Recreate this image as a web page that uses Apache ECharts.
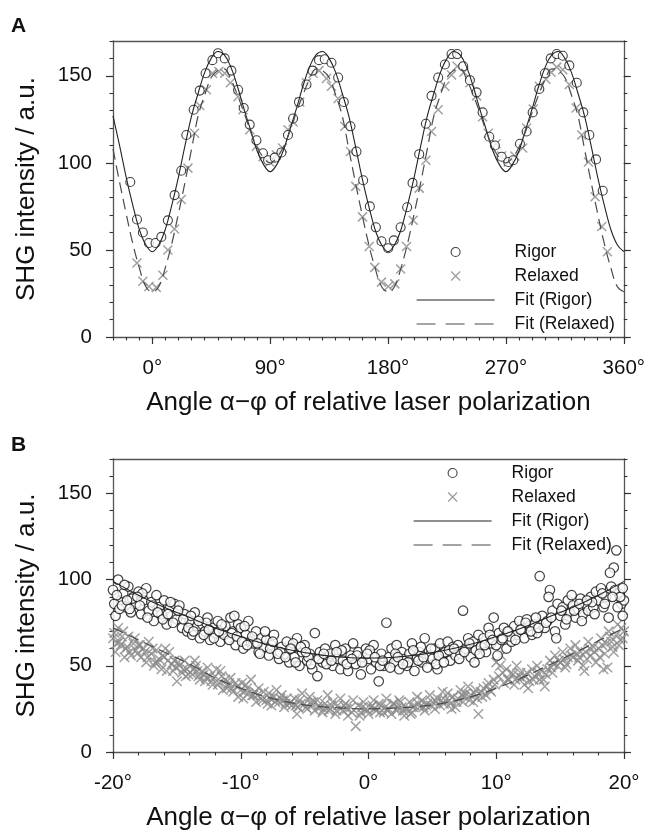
<!DOCTYPE html>
<html>
<head>
<meta charset="utf-8">
<script src="https://cdn.jsdelivr.net/npm/echarts@6/dist/echarts.min.js"></script>
<style>
html,body{margin:0;padding:0;background:#fff;}
#chart{width:648px;height:832px;}
</style>
</head>
<body>
<div id="chart"></div>
<script>
// ---------- Panel A data ----------
const A_X_TICKS = [0, 90, 180, 270, 360];
const B_X_TICKS = [-20, -10, 0, 10, 20];
const Y_TICKS = [0, 50, 100, 150];
const A_RIGOR = [[-16.8,89],[-11.7,67.5],[-7.2,60],[-2.6,54],[2.5,54],[6.9,57.5],[11.9,67],[17,81.5],[22.1,95.5],[26,116],[31.6,130.5],[36.2,141.5],[40.7,151.5],[45.9,159],[50.2,163],[55.3,160],[60.4,153],[65.5,142],[69.8,131.5],[74.4,122],[79.5,113],[84.5,105.5],[88.4,101.5],[93.5,103],[98.6,106],[103.6,116],[107.5,125.5],[112,135],[117.7,145],[122.3,153],[127.3,159],[131.7,159.5],[136.8,157.5],[141.9,149],[146.2,135],[151.3,121],[155.9,106.5],[161,90],[166.1,75],[170.7,63],[175,55],[180.1,51],[184.4,55.5],[189.6,63],[194.6,74.5],[198.7,88.5],[203.8,105],[208.9,122.5],[213.2,138.5],[218.3,149],[223.4,156.5],[228.5,162.5],[232.8,162.5],[237.4,155.5],[242.5,147.5],[247.6,140.5],[252.2,129],[257.3,115],[261.6,110],[266.7,103.5],[271.8,100.5],[275.6,101.5],[280.7,111],[285.8,118],[290.4,129],[295.5,142.5],[299.8,151.5],[304.2,160],[308.8,162.5],[313.4,161.5],[318.4,156],[324.1,146],[329.1,129],[333.7,116],[338.8,102],[343.9,84]];
const A_RELAXED = [[-11.7,42.5],[-7.2,32],[-2.6,29],[3,28.5],[8.1,35.5],[11.9,50],[17,62],[22.1,79],[27.2,97],[32.3,117],[36.2,133],[41.3,142],[45.9,151.5],[50.9,152.5],[55.3,151.5],[59.6,146],[65.5,138],[69.3,130.5],[74.4,119],[79.5,109.5],[84.5,103.5],[89.7,100.5],[94.8,104.5],[99.4,108.5],[103.6,119],[107.5,123.5],[112.6,135],[117.7,146],[122.8,151.5],[127.3,153],[133,148.5],[136.8,144],[141.9,137],[147,121],[151.3,106.5],[155.3,86.5],[160.5,69],[165.6,52],[169.9,40],[175,31.5],[180.1,29],[185.2,30.5],[189.6,39],[194.1,52],[199.2,67],[203.8,85.5],[208.9,101.5],[213.2,118],[218.3,130.5],[223.4,144],[228.5,150.5],[232.8,155.5],[237.9,152],[242.5,146],[247.6,138.5],[252.2,126.5],[256.5,117],[262.4,111],[266.7,104],[271.8,100.5],[276.9,104],[282.8,108.5],[285.8,120],[290.9,131],[295.5,144],[300.6,148],[304.5,152],[308.8,155],[313.4,153.5],[318.4,145],[323.6,131.5],[327.9,116],[333,100.5],[338.1,80.5],[343.2,63.5],[347.5,49]];
const A_FIT_RIGOR = [[-30,127],[-25,110],[-20,92],[-15,76],[-10,62],[-5,53],[0,49],[5,53],[10,62],[15,76],[20,92],[25,110],[30,127],[35,140],[40,152],[45,160],[50,164],[55,162],[60,155],[65,144],[70,131],[75,119],[80,107],[85,99],[90,95],[95,99],[100,107],[105,119],[110,131],[115,144],[120,155],[125,162],[130,164],[135,160],[140,152],[145,140],[150,127],[155,110],[160,92],[165,76],[170,62],[175,53],[180,49],[185,53],[190,62],[195,76],[200,92],[205,110],[210,127],[215,140],[220,152],[225,160],[230,164],[235,162],[240,155],[245,144],[250,131],[255,119],[260,107],[265,99],[270,95],[275,99],[280,107],[285,119],[290,131],[295,144],[300,155],[305,162],[310,164],[315,160],[320,152],[325,140],[330,127],[335,110],[340,92],[345,76],[350,62],[355,53],[360,49]];
const A_FIT_RELAXED = [[-30,108],[-25,89],[-20,71],[-15,54],[-10,40],[-5,29],[0,26],[5,29],[10,40],[15,54],[20,71],[25,89],[30,108],[35,127],[40,139],[45,149],[50,153],[55,154],[60,148],[65,139],[70,129],[75,118],[80,109],[85,103],[90,100],[95,103],[100,109],[105,118],[110,129],[115,139],[120,148],[125,154],[130,153],[135,149],[140,139],[145,127],[150,108],[155,89],[160,71],[165,54],[170,40],[175,29],[180,26],[185,29],[190,40],[195,54],[200,71],[205,89],[210,108],[215,127],[220,139],[225,149],[230,153],[235,154],[240,148],[245,139],[250,129],[255,118],[260,109],[265,103],[270,100],[275,103],[280,109],[285,118],[290,129],[295,139],[300,148],[305,154],[310,153],[315,149],[320,139],[325,127],[330,108],[335,89],[340,71],[345,54],[350,40],[355,29],[360,26]];

// ---------- Panel B data ----------
const B_RIGOR = [[-20,94],[-19.8,79],[-19.6,100],[-19.4,88],[-19.2,92],[-19,84],[-18.8,96],[-18.6,81],[-18.4,90],[-18.2,86],[-18,93],[-17.8,80],[-17.6,88],[-17.4,95],[-17.2,82],[-17,87],[-16.8,76],[-16.6,91],[-16.4,84],[-16.2,80],[-16,88],[-15.8,74],[-15.6,83],[-15.4,79],[-15.2,86],[-15,77],[-14.8,85],[-14.6,72],[-14.4,80],[-14.2,70],[-14,76],[-13.8,68],[-13.6,81],[-13.4,73],[-13.2,66],[-13,74],[-12.8,70],[-12.6,78],[-12.4,65],[-12.2,72],[-12,69],[-11.8,76],[-11.6,64],[-11.4,71],[-11.2,73],[-11,66],[-10.8,78],[-10.6,70],[-10.4,62],[-10.2,74],[-10,72],[-9.8,60],[-9.6,68],[-9.4,76],[-9.2,64],[-9,63],[-8.8,70],[-8.6,58],[-8.4,66],[-8.2,61],[-8,65],[-7.8,56],[-7.6,62],[-7.4,68],[-7.2,59],[-7,54],[-6.8,61],[-6.6,57],[-6.4,64],[-6.2,52],[-6,60],[-5.8,55],[-5.6,66],[-5.4,50],[-5.2,58],[-5,62],[-4.8,53],[-4.6,57],[-4.4,48],[-4.2,69],[-4,44],[-3.8,58],[-3.6,52],[-3.4,60],[-3.2,55],[-3,57],[-2.8,50],[-2.6,62],[-2.4,54],[-2.2,48],[-2,53],[-1.8,60],[-1.6,47],[-1.4,56],[-1.2,63],[-1,51],[-0.8,58],[-0.6,45],[-0.4,55],[-0.2,60],[0,54],[0.2,48],[0.4,62],[0.6,52],[0.8,41],[1,57],[1.2,50],[1.4,75],[1.6,55],[1.8,60],[2,52],[2.2,62],[2.4,48],[2.6,58],[2.8,54],[3,50],[3.2,57],[3.4,63],[3.6,47],[3.8,55],[4,58],[4.2,52],[4.4,66],[4.6,49],[4.8,56],[5,54],[5.2,60],[5.4,48],[5.6,63],[5.8,57],[6,58],[6.2,64],[6.4,53],[6.6,61],[6.8,56],[7,62],[7.2,57],[7.4,82],[7.6,60],[7.8,66],[8,55],[8.2,64],[8.4,59],[8.6,68],[8.8,61],[9,66],[9.2,58],[9.4,72],[9.6,63],[9.8,78],[10,62],[10.2,69],[10.4,65],[10.6,72],[10.8,60],[11,70],[11.2,64],[11.4,73],[11.6,68],[11.8,76],[12,71],[12.2,66],[12.4,77],[12.6,73],[12.8,68],[13,74],[13.2,69],[13.4,102],[13.6,79],[13.8,72],[14,76],[14.2,94],[14.4,82],[14.6,70],[14.8,86],[15,79],[15.2,84],[15.4,74],[15.6,88],[15.8,81],[16,85],[16.2,78],[16.4,83],[16.6,89],[16.8,80],[17,86],[17.2,82],[17.4,90],[17.6,84],[17.8,93],[18,88],[18.2,95],[18.4,84],[18.6,90],[18.8,78],[19,96],[19.2,107],[19.4,117],[19.6,92],[19.8,86],[20,88],
[-19.9,86],[-19.5,83],[-19.1,97],[-18.5,89],[-17.7,92],[-16.9,85],[-15.5,87],[-14.9,82],[-13.9,79],[-12.7,75],[-11.3,68],[-10.5,79],[-9.7,73],[-8.1,70],[-6.9,58],[-5.9,63],[-4.7,55],[-3.3,51],[-2.1,59],[-0.9,56],[0.1,59],[0.9,50],[2.1,57],[3.1,52],[4.1,61],[5.3,51],[6.3,59],[7.1,54],[8.3,52],[9.5,68],[10.1,56],[11.1,67],[12.3,75],[13.1,78],[14.1,90],[14.7,66],[15.9,91],[16.7,76],[17.5,87],[18.3,92],[18.9,104],[19.3,94],[19.7,90],[19.9,95],
[-19.7,91],[-19.3,85],[-18.9,88],[-18.7,83],[-18.1,90],[-17.9,85],[-17.3,78],[-16.5,81],[-16.1,77],[-15.7,80],[-15.3,75],[-14.5,77],[-14.1,72],[-13.7,70],[-13.3,76],[-12.9,68],[-12.5,71],[-12.1,66],[-11.7,70],[-11.5,74],[-10.9,65],[-10.7,69],[-10.3,67],[-9.9,64],[-9.5,62],[-9.1,67],[-8.7,63],[-8.5,57],[-7.7,60],[-7.5,64],[-7.1,57],[-6.5,55],[-6.1,60],[-5.7,52],[-5.3,61],[-4.9,58],[-4.5,51],[-3.9,54],[-3.5,57],[-2.9,53],[-2.5,58],[-1.7,51],[-1.3,54],[-0.5,52],[-0.1,57],[0.5,55],[1.1,53],[1.7,49],[2.3,55],[2.7,51],[3.5,59],[3.9,53],[4.3,55],[4.9,60],[5.5,56],[5.9,52],[6.7,60],[7.5,58],[7.9,63],[8.7,57],[9.1,62],[9.7,65],[10.5,66],[10.9,70],[11.5,65],[11.9,71],[12.7,70],[13.3,72],[13.9,75],[14.3,78],[15.1,82],[15.5,77],[16.1,82],[16.5,86],[17.1,88],[17.7,80],[18.5,86],[19.1,90],[19.5,84],[19.9,79]];
const B_RELAXED = [[-20,66],[-19.8,58],[-19.6,72],[-19.4,62],[-19.2,70],[-19,60],[-18.8,67],[-18.6,56],[-18.4,63],[-18.2,59],[-18,62],[-17.8,55],[-17.6,60],[-17.4,52],[-17.2,64],[-17,57],[-16.8,50],[-16.6,59],[-16.4,54],[-16.2,48],[-16,55],[-15.8,47],[-15.6,58],[-15.4,51],[-15.2,53],[-15,41],[-14.8,50],[-14.6,46],[-14.4,53],[-14.2,48],[-14,50],[-13.8,45],[-13.6,53],[-13.4,47],[-13.2,42],[-13,47],[-12.8,41],[-12.6,49],[-12.4,44],[-12.2,39],[-12,44],[-11.8,39],[-11.6,47],[-11.4,36],[-11.2,42],[-11,38],[-10.8,43],[-10.6,35],[-10.4,40],[-10.2,32],[-10,36],[-9.8,31],[-9.6,39],[-9.4,34],[-9.2,42],[-9,33],[-8.8,29],[-8.6,37],[-8.4,31],[-8.2,35],[-8,30],[-7.8,34],[-7.6,27],[-7.4,32],[-7.2,36],[-7,29],[-6.8,33],[-6.6,26],[-6.4,31],[-6.2,28],[-6,27],[-5.8,31],[-5.6,22],[-5.4,30],[-5.2,34],[-5,28],[-4.8,25],[-4.6,32],[-4.4,27],[-4.2,24],[-4,30],[-3.8,26],[-3.6,23],[-3.4,28],[-3.2,33],[-3,25],[-2.8,29],[-2.6,22],[-2.4,27],[-2.2,31],[-2,24],[-1.8,28],[-1.6,21],[-1.4,26],[-1.2,30],[-1,15],[-0.8,27],[-0.6,23],[-0.4,29],[-0.2,25],[0,22],[0.2,26],[0.4,30],[0.6,24],[0.8,28],[1,27],[1.2,23],[1.4,31],[1.6,25],[1.8,22],[2,28],[2.2,24],[2.4,30],[2.6,26],[2.8,21],[3,25],[3.2,29],[3.4,23],[3.6,27],[3.8,32],[4,26],[4.2,30],[4.4,24],[4.6,28],[4.8,33],[5,29],[5.2,25],[5.4,31],[5.6,27],[5.8,35],[6,30],[6.2,34],[6.4,28],[6.6,32],[6.8,26],[7,31],[7.2,36],[7.4,29],[7.6,34],[7.8,38],[8,33],[8.2,29],[8.4,36],[8.6,22],[8.8,35],[9,37],[9.2,33],[9.4,40],[9.6,35],[9.8,42],[10,52],[10.2,44],[10.4,56],[10.6,40],[10.8,48],[11,42],[11.2,46],[11.4,39],[11.6,50],[11.8,44],[12,43],[12.2,39],[12.4,46],[12.6,41],[12.8,48],[13,44],[13.2,50],[13.4,42],[13.6,47],[13.8,38],[14,48],[14.2,53],[14.4,46],[14.6,56],[14.8,50],[15,52],[15.2,58],[15.4,49],[15.6,55],[15.8,60],[16,55],[16.2,62],[16.4,53],[16.6,58],[16.8,50],[17,58],[17.2,64],[17.4,56],[17.6,61],[17.8,52],[18,60],[18.2,66],[18.4,48],[18.6,63],[18.8,70],[19,64],[19.2,58],[19.4,68],[19.6,62],[19.8,72],[20,70],
[-19.9,69],[-19.5,64],[-19.1,55],[-18.3,66],[-17.5,58],[-16.7,52],[-15.9,60],[-15.1,49],[-14.3,44],[-13.5,50],[-12.9,45],[-11.9,48],[-11.1,37],[-9.9,40],[-8.9,35],[-7.9,28],[-6.7,30],[-5.5,26],[-4.3,29],[-3.1,24],[-1.9,27],[-0.7,21],[0.3,27],[1.5,24],[2.5,29],[3.3,22],[4.5,27],[5.7,30],[6.5,25],[7.3,33],[8.5,31],[9.3,38],[10.3,50],[11.3,45],[12.5,37],[13.7,42],[14.5,51],[15.3,54],[16.3,57],[16.9,47],[17.3,60],[18.1,55],[18.7,49],[18.9,67],[19.5,74],[19.9,66],
[-19.7,63],[-19.3,67],[-18.9,61],[-18.7,58],[-18.1,57],[-17.9,62],[-17.3,55],[-16.9,60],[-16.5,52],[-16.1,56],[-15.7,53],[-15.3,47],[-14.9,52],[-14.5,48],[-14.1,45],[-13.7,48],[-13.3,44],[-12.7,43],[-12.3,41],[-11.7,40],[-11.5,44],[-10.9,40],[-10.7,37],[-10.3,38],[-9.7,35],[-9.5,37],[-9.1,33],[-8.7,33],[-8.3,30],[-7.7,31],[-7.3,29],[-6.9,31],[-6.5,28],[-6.1,29],[-5.7,27],[-5.3,28],[-4.9,26],[-4.5,29],[-3.9,27],[-3.5,25],[-2.9,27],[-2.5,24],[-1.7,25],[-1.3,23],[-0.5,26],[-0.1,24],[0.5,25],[0.9,23],[1.3,26],[1.9,28],[2.3,26],[2.7,24],[3.5,26],[3.9,28],[4.3,26],[4.9,27],[5.3,29],[5.9,28],[6.3,30],[6.9,29],[7.5,32],[7.9,30],[8.3,34],[8.9,32],[9.5,36],[9.9,39],[10.5,46],[10.9,42],[11.5,42],[11.9,46],[12.3,44],[12.9,42],[13.3,46],[13.9,45],[14.3,49],[14.9,53],[15.5,51],[15.9,56],[16.5,55],[17.1,54],[17.7,58],[18.3,62],[18.5,57],[19.1,61],[19.7,65]];
const B_FIT_RIGOR = [[-20,99],[-18,91],[-16,84],[-14,78],[-12,72],[-10,67],[-8,62.5],[-6,59],[-4,56.5],[-2,55],[0,54.5],[2,55],[4,56.5],[6,59],[8,62.5],[10,67],[12,72],[14,78],[16,84],[18,91],[20,99]];
const B_FIT_RELAXED = [[-20,72],[-18,65],[-16,58],[-14,51],[-12,43],[-10,37],[-8,32],[-6,28.5],[-4,26.5],[-2,25.5],[0,25],[2,25.5],[4,26.5],[6,28.5],[8,32],[10,37],[12,43],[14,50],[16,57],[18,64.5],[20,72]];

const FONT = 'Liberation Sans, Arial, Helvetica, sans-serif';
const AX = '#555';
const X_SYMBOL = 'path://M0,0L10,10M10,0L0,10';
const X_TITLE = 'Angle \u03b1\u2212\u03c6 of relative laser polarization';
const Y_TITLE = 'SHG intensity / a.u.';

const chart = echarts.init(document.getElementById('chart'), null, {renderer: 'canvas'});

function panelAxes(g, xMin, xMax, xTicks, minorStep) {
  const xs = [
    { gridIndex: g, type: 'value', min: xMin, max: xMax, position: 'bottom',
      axisLine: {show: true, onZero: false, lineStyle: {color: AX, width: 1.3}},
      axisTick: {show: true, customValues: xTicks, length: 7, inside: false, lineStyle: {color: '#333', width: 1.2}},
      axisLabel: {customValues: xTicks, formatter: '{value}°', fontSize: 20.5, color: '#111', fontFamily: FONT, margin: 21},
      splitLine: {show: false},
      name: X_TITLE, nameLocation: 'middle', nameGap: 53,
      nameTextStyle: {fontSize: 26, color: '#111', fontFamily: FONT} },
    { gridIndex: g, type: 'value', min: xMin, max: xMax, interval: minorStep, position: 'bottom',
      axisLine: {show: false, onZero: false}, axisLabel: {show: false}, splitLine: {show: false},
      axisTick: {show: true, length: 3.5, lineStyle: {color: '#333', width: 1.1}} },
    { gridIndex: g, type: 'value', min: xMin, max: xMax, position: 'top',
      axisLine: {show: true, onZero: false, lineStyle: {color: AX, width: 1.3}},
      axisTick: {show: false}, axisLabel: {show: false}, splitLine: {show: false} }
  ];
  const ys = [
    { gridIndex: g, type: 'value', min: 0, max: 170, position: 'left',
      axisLine: {show: true, onZero: false, lineStyle: {color: AX, width: 1.3}},
      axisTick: {show: true, customValues: Y_TICKS, length: 7, lineStyle: {color: '#333', width: 1.2}},
      axisLabel: {customValues: Y_TICKS, fontSize: 20.5, color: '#111', fontFamily: FONT, margin: 21},
      splitLine: {show: false},
      name: Y_TITLE, nameLocation: 'middle', nameGap: 73,
      nameTextStyle: {fontSize: 26, color: '#111', fontFamily: FONT} },
    { gridIndex: g, type: 'value', min: 0, max: 170, interval: 10, position: 'left',
      axisLine: {show: false, onZero: false}, axisLabel: {show: false}, splitLine: {show: false},
      axisTick: {show: true, length: 3.5, lineStyle: {color: '#333', width: 1.1}} },
    { gridIndex: g, type: 'value', min: 0, max: 170, position: 'right',
      axisLine: {show: true, onZero: false, lineStyle: {color: AX, width: 1.3}},
      axisTick: {show: true, customValues: Y_TICKS, length: 7, lineStyle: {color: '#333', width: 1.2}},
      axisLabel: {show: false}, splitLine: {show: false} },
    { gridIndex: g, type: 'value', min: 0, max: 170, interval: 10, position: 'right',
      axisLine: {show: false, onZero: false}, axisLabel: {show: false}, splitLine: {show: false},
      axisTick: {show: true, length: 3.5, lineStyle: {color: '#333', width: 1.1}} }
  ];
  return {xs, ys};
}

const pA = panelAxes(0, -30, 360, A_X_TICKS, 10);
const pB = panelAxes(1, -20, 20, B_X_TICKS, 2);

function panelSeries(xi, yi, rigor, relaxed, fitR, fitX, symSize, circBorder) {
  return [
    { type: 'scatter', name: 'Relaxed', xAxisIndex: xi, yAxisIndex: yi, data: relaxed,
      symbol: X_SYMBOL, symbolSize: symSize,
      itemStyle: {color: 'rgba(0,0,0,0)', borderColor: '#8a8a8a', borderWidth: 1.5}, z: 2, silent: true },
    { type: 'scatter', name: 'Rigor', xAxisIndex: xi, yAxisIndex: yi, data: rigor,
      symbol: 'circle', symbolSize: symSize,
      itemStyle: {color: '#fff', borderColor: '#111', borderWidth: circBorder}, z: 3, silent: true },
    { type: 'line', name: 'Fit (Rigor)', xAxisIndex: xi, yAxisIndex: yi, data: fitR,
      symbol: 'none', showSymbol: false, smooth: 0.4,
      itemStyle: {color: '#222'},
      lineStyle: {color: '#222', width: 1.1}, z: 4, silent: true },
    { type: 'line', name: 'Fit (Relaxed)', xAxisIndex: xi, yAxisIndex: yi, data: fitX,
      symbol: 'none', showSymbol: false, smooth: 0.4,
      itemStyle: {color: '#4a4a4a'},
      lineStyle: {color: '#4a4a4a', width: 1.2, type: [11, 6]}, z: 4, silent: true }
  ];
}

function legendCfg(left, top) {
  return {
    show: true, orient: 'vertical', left: left, top: top, padding: 0,
    itemWidth: 78, itemHeight: 9, itemGap: 6, selectedMode: false,
    textStyle: {fontSize: 17.5, color: '#111', fontFamily: FONT, padding: [0, 0, 0, 15]},
    data: [
      {name: 'Rigor', icon: 'circle', itemStyle: {color: '#fff', borderColor: '#111', borderWidth: 1.1}},
      {name: 'Relaxed', icon: X_SYMBOL, itemStyle: {color: 'rgba(0,0,0,0)', borderColor: '#8a8a8a', borderWidth: 1.5}},
      {name: 'Fit (Rigor)', itemStyle: {opacity: 0}, lineStyle: {color: '#222', width: 1.1, type: 'solid', opacity: 1}},
      {name: 'Fit (Relaxed)', itemStyle: {opacity: 0}, lineStyle: {color: '#4a4a4a', width: 1.2, type: [19, 10], opacity: 1}}
    ]
  };
}

const option = {
  animation: false,
  backgroundColor: '#fff',
  textStyle: {fontFamily: FONT},
  grid: [
    {left: 113, top: 41, width: 511, height: 296},
    {left: 113, top: 459, width: 511, height: 296}
  ],
  xAxis: pA.xs.concat(pB.xs),
  yAxis: pA.ys.concat(pB.ys),
  legend: [legendCfg(416, 243), legendCfg(413, 464)],
  graphic: [
    {type: 'text', left: 11, top: 16, style: {text: 'A', font: 'bold 21px ' + FONT, fill: '#111'}},
    {type: 'text', left: 11, top: 435, style: {text: 'B', font: 'bold 21px ' + FONT, fill: '#111'}}
  ],
  series: panelSeries(0, 0, A_RIGOR, A_RELAXED, A_FIT_RIGOR, A_FIT_RELAXED, 9, 1.1)
    .concat(panelSeries(3, 4, B_RIGOR, B_RELAXED, B_FIT_RIGOR, B_FIT_RELAXED, 9.5, 1.2))
};
chart.setOption(option);
</script>
</body>
</html>
